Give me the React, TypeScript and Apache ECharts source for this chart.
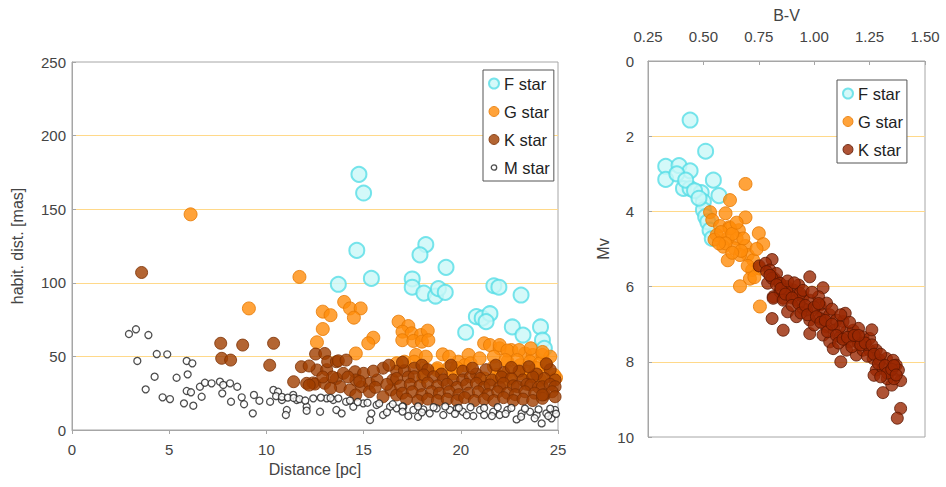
import React, { useEffect, useRef } from "react";
import * as echarts from "echarts";

// ---------- Left chart: Distance [pc] vs habitable-zone distance [mas] ----------
const seriesNames = ["F star", "G star", "K star", "M star"];

const leftF: number[][] = [
  [14.76, 173.7], [15.0, 161], [14.65, 122], [13.7, 99], [15.4, 103],
  [18.2, 126], [17.9, 119], [17.5, 102.6], [17.5, 97], [18.1, 93],
  [18.7, 91], [18.85, 96], [19.2, 93.5], [19.24, 110.5], [21.7, 98],
  [21.96, 97], [23.1, 91.7], [20.8, 77], [21.1, 76], [21.5, 79],
  [21.3, 73.6], [20.25, 66.4], [22.65, 70], [23.2, 64.5], [24.1, 70],
  [24.2, 61], [24.3, 55.5],
];

const leftG: number[][] = [
  [6.1, 146.5], [11.7, 104], [9.1, 82.6], [12.9, 80.4], [13.3, 78],
  [12.9, 68.6], [12.6, 59.6], [14.0, 87], [14.3, 82.6], [14.85, 82.6],
  [14.5, 76.3], [14.6, 52], [15.5, 62.7], [15.24, 58.9], [16.8, 73.6],
  [17.3, 70.6], [17.0, 66.8], [17.47, 65.7], [17.95, 64.5], [18.3, 67.5],
  [16.99, 61], [17.56, 60.5], [18.0, 60], [18.33, 61], [17.7, 51],
  [16.7, 45.3], [17.1, 46.4], [18.1, 42], [19.07, 51.4], [18.76, 40.8],
  [19.36, 42], [19.87, 46.4], [20.4, 51], [20.2, 44], [19.6, 38.5],
  [21.2, 58.9], [21.5, 57.7], [22.0, 55.5], [22.6, 54.3], [21.7, 49.8],
  [22.4, 46.4], [21.7, 43], [23.3, 52], [23.7, 51], [24.2, 51],
  [24.6, 49.8], [23.05, 44], [23.56, 46.4], [24.07, 45.3], [24.4, 44],
  [23.05, 38.5], [23.65, 37.4], [21.2, 35], [21.85, 37.4], [22.45, 39.6],
  [24.9, 35.5], [24.3, 36.2], [22.5, 34], [24.07, 34], [18.07, 36.2],
  [22.0, 57.7], [22.4, 54], [23.0, 54.3], [23.6, 55.5], [24.2, 53],
  [22.9, 47.5], [22.3, 47.5], [22.0, 36], [23.4, 39.6], [23.9, 42],
  [24.8, 37.4], [19.4, 49.8], [19.8, 42], [20.5, 45.3], [20.97, 48.7],
  [18.2, 49.8], [18.8, 42], [17.6, 46.4],
];

const leftK: number[][] = [
  [3.58, 107], [7.65, 58.9], [8.78, 57.7], [10.37, 58.9], [7.7, 48.7],
  [8.16, 47.5], [10.17, 44], [11.8, 43], [11.4, 32.8], [12.07, 31.7],
  [12.4, 32], [12.53, 51.6], [12.6, 40.8], [12.2, 43.5], [13.0, 52],
  [13.1, 41], [13.15, 46.4], [13.6, 46.4], [13.7, 47], [14.1, 47.5],
  [12.5, 31.2], [13.0, 31.7], [13.6, 35], [13.96, 38.5], [13.8, 29.4],
  [13.3, 28.3], [14.56, 39.6], [15.0, 38.5], [14.6, 34], [14.9, 29.4],
  [15.3, 31.7], [15.7, 34], [16.0, 42], [16.5, 34], [16.4, 27.2],
  [16.7, 23.8], [16.0, 22.6], [15.3, 26], [14.3, 27.2], [14.6, 23.8],
  [14.2, 36], [14.8, 33], [15.5, 40], [15.6, 29], [16.2, 31],
  [13.4, 36], [12.9, 36], [12.2, 30.5],
  [16.7, 40], [17.1, 40.3], [17.6, 42], [18.0, 44], [18.3, 41],
  [19.0, 38], [20.1, 40], [20.8, 38], [21.3, 41], [22.2, 39],
  [23.0, 40], [23.9, 38], [24.6, 41],
  [16.7, 35], [17.3, 36], [17.6, 36.2], [18.1, 37.4], [18.6, 36.2],
  [19.1, 34], [19.6, 34], [20.1, 34], [20.5, 36], [21.0, 35],
  [21.6, 34], [22.1, 36], [22.6, 35], [23.2, 34], [23.7, 36],
  [24.3, 35], [24.85, 34],
  [16.9, 30], [17.4, 31], [17.9, 30], [18.3, 32], [18.8, 30],
  [19.3, 31], [19.8, 29], [20.3, 31], [20.8, 31.7], [21.2, 29],
  [21.5, 30.6], [22.0, 29], [22.2, 31.7], [22.7, 30], [22.9, 29.4],
  [23.4, 31], [23.6, 30.6], [24.0, 29], [24.2, 29.4], [24.6, 31],
  [24.85, 29.4],
  [17.0, 25], [17.5, 26], [18.0, 24], [18.5, 26], [18.9, 25],
  [19.4, 26], [19.9, 24], [20.4, 25], [20.9, 26], [21.4, 24],
  [21.9, 26], [22.4, 25], [22.8, 24], [23.3, 26], [23.8, 25],
  [24.3, 24], [24.7, 26],
  [17.2, 21], [17.8, 20], [18.3, 21], [18.8, 20], [19.3, 21],
  [19.8, 20], [20.2, 22], [20.7, 20], [21.2, 21], [21.7, 20],
  [22.2, 22], [22.7, 20], [23.2, 21], [23.7, 20], [24.2, 21.5],
  [24.85, 22.6], [24.2, 23.8],
  [16.3, 44], [17.0, 46], [19.5, 44], [20.6, 42], [21.8, 44],
  [23.5, 43], [24.4, 45], [22.6, 42.5],
];

const leftM: number[][] = [
  [2.93, 65.2], [3.29, 68.4], [3.93, 64.5], [3.36, 46.9], [4.36, 51.6],
  [4.9, 51.4], [5.9, 46.9], [6.19, 45.3], [4.25, 36.2], [5.38, 35.5],
  [5.95, 37.8], [3.79, 27.6], [4.66, 22.2], [5.04, 21], [5.9, 26.5],
  [6.12, 25.6], [5.76, 18.1], [6.24, 16.5], [6.67, 22.6], [6.58, 29.4],
  [6.84, 32.1], [7.18, 31.7], [7.61, 32.8], [7.78, 30.6], [8.13, 31.7],
  [8.5, 29.4], [7.73, 24.9], [8.18, 19.2], [8.73, 22.2], [8.85, 17.5],
  [9.3, 11.3], [9.36, 23.8], [9.64, 19.9], [10.19, 19.2], [10.36, 27.2],
  [10.6, 26], [10.8, 20.4], [11.05, 13.6], [11.0, 10.2], [11.38, 23.8],
  [11.56, 20.4], [12.07, 15.8], [12.07, 13.1], [12.41, 21.5], [12.76, 12.4],
  [13.1, 21.5], [13.44, 20.4], [13.6, 13.6], [13.87, 11.3], [14.1, 19.2],
  [14.47, 15.8], [14.98, 18.1], [15.33, 6.8], [15.4, 11.3], [15.67, 17],
  [16.0, 10.2], [16.36, 15.8], [16.7, 14.7], [17.04, 15.8], [17.3, 9.5],
  [17.56, 13.6], [17.8, 9], [18.07, 14], [18.4, 11.3], [18.76, 14.7],
  [19.1, 10.2], [19.44, 13.6], [19.8, 14.7], [20.1, 12.4], [20.64, 9.5],
  [20.99, 13.6], [21.2, 10.2], [21.67, 12.4], [22.0, 10.2], [22.4, 13.6],
  [22.87, 7.2], [23.13, 11.3], [23.56, 12.4], [23.9, 10.2], [24.16, 4.5],
  [24.4, 11.3], [24.67, 7.9], [24.85, 13.6],
  [10.5, 23], [10.8, 22.5], [11.1, 22], [11.4, 21.8], [11.7, 21],
  [12.0, 20], [12.8, 22], [13.3, 21.8], [13.7, 21.5], [14.3, 20],
  [14.7, 19], [15.2, 18.5], [15.8, 18], [16.5, 17.5], [17.0, 16],
  [17.8, 16], [18.6, 15.5], [19.2, 16], [19.9, 15], [20.5, 15.5],
  [21.2, 15], [21.9, 15.5], [22.6, 15], [23.3, 14.5], [24.0, 14],
  [24.6, 14.5], [16.2, 12], [17.0, 12.5], [18.0, 12], [19.7, 11],
  [20.3, 10], [21.6, 9.5], [22.3, 11], [23.1, 9], [23.8, 8],
  [24.5, 9.5], [24.9, 11],
];

// ---------- Right chart: B-V vs Mv ----------
const rightF: number[][] = [
  [0.44, 1.57], [0.51, 2.4], [0.33, 2.8], [0.39, 2.78], [0.44, 2.92],
  [0.33, 3.15], [0.38, 3.0], [0.41, 3.39], [0.44, 3.39], [0.42, 3.17],
  [0.49, 3.5], [0.545, 3.17], [0.57, 3.58], [0.5, 3.74], [0.5, 3.96],
  [0.51, 4.14], [0.52, 4.28], [0.53, 4.5], [0.54, 4.72], [0.46, 3.45],
  [0.48, 3.65],
];

const rightG: number[][] = [
  [0.69, 3.27], [0.62, 3.7], [0.53, 4.02], [0.6, 4.05], [0.69, 4.16],
  [0.54, 4.23], [0.575, 4.39], [0.617, 4.42], [0.66, 4.5], [0.56, 4.63],
  [0.61, 4.72], [0.65, 4.72], [0.75, 4.58], [0.77, 4.87], [0.59, 4.94],
  [0.64, 4.98], [0.69, 4.92], [0.7, 5.16], [0.665, 5.16], [0.61, 5.3],
  [0.725, 5.3], [0.72, 5.56], [0.755, 5.52], [0.71, 5.79], [0.665, 5.99],
  [0.755, 6.53], [0.62, 4.45], [0.68, 4.72], [0.55, 4.75], [0.58, 4.55],
  [0.63, 4.6], [0.6, 4.85], [0.67, 5.05], [0.74, 5.0], [0.7, 5.45],
  [0.73, 5.75], [0.63, 5.1], [0.57, 4.85], [0.65, 4.3],
];

const rightK: number[][] = [
  [0.752, 5.45], [0.81, 5.28], [0.98, 5.74], [1.04, 6.03], [0.81, 6.85],
  [0.86, 7.16], [0.98, 7.25], [1.12, 8.0], [1.31, 8.82], [1.35, 8.62],
  [1.39, 9.24], [1.375, 9.5], [1.39, 8.5],
  [0.78, 5.38], [0.8, 5.56], [0.82, 5.78], [0.79, 5.91], [0.845, 5.91],
  [0.876, 6.0], [0.906, 6.09], [0.93, 5.96], [0.815, 6.27], [0.86, 6.31],
  [0.89, 6.22], [0.92, 6.36], [0.95, 6.27], [0.98, 6.36], [1.02, 6.27],
  [0.88, 6.67], [0.92, 6.8], [0.95, 6.58], [0.996, 6.62], [1.026, 6.49],
  [1.056, 6.44], [1.04, 6.75], [1.07, 6.75], [1.1, 6.89], [1.13, 6.93],
  [1.056, 7.07], [1.09, 7.16], [1.04, 7.29], [1.07, 7.47], [1.086, 7.65],
  [1.116, 7.34], [1.146, 7.2], [1.176, 7.16], [1.2, 7.11], [1.16, 7.47],
  [1.19, 7.38], [1.22, 7.34], [1.25, 7.38], [1.146, 7.69], [1.19, 7.82],
  [1.22, 7.69], [1.25, 7.69], [1.28, 7.69], [1.266, 7.91], [1.296, 7.96],
  [1.326, 7.91], [1.356, 7.96], [1.37, 8.09], [1.38, 8.22], [1.28, 8.22],
  [1.31, 8.18], [1.34, 8.27], [1.27, 8.36], [1.33, 8.45], [1.36, 8.45],
  [1.2, 7.51], [1.116, 7.07], [1.14, 6.71], [0.98, 6.89], [1.0, 7.02],
  [1.026, 6.85], [0.966, 6.62], [0.936, 6.18], [0.846, 6.14], [0.83, 5.65],
  [0.785, 5.6], [0.81, 5.78], [0.846, 5.91], [0.876, 6.09], [0.815, 6.31],
  [0.86, 6.36],
  [0.8, 5.7], [0.83, 5.95], [0.85, 6.05], [0.87, 6.2], [0.9, 6.3],
  [0.9, 6.5], [0.93, 6.45], [0.94, 6.7], [0.96, 6.5], [0.97, 6.75],
  [1.0, 6.55], [1.01, 6.8], [1.03, 6.95], [1.05, 6.9], [1.06, 7.2],
  [1.08, 7.0], [1.1, 7.3], [1.11, 7.5], [1.13, 7.4], [1.15, 7.35],
  [1.17, 7.6], [1.18, 7.3], [1.21, 7.55], [1.23, 7.5], [1.24, 7.85],
  [1.26, 7.55], [1.27, 7.8], [1.29, 8.05], [1.3, 7.8], [1.32, 8.1],
  [1.33, 8.3], [1.35, 8.2], [1.36, 8.1], [1.37, 8.35], [1.3, 8.4],
  [0.88, 5.85], [0.91, 5.9], [0.95, 6.1], [0.99, 6.15], [1.02, 6.45],
  [1.08, 6.6], [1.12, 6.75], [1.16, 6.95], [1.2, 7.3], [1.26, 7.15],
];

const leftXTicks = { min: 0, max: 25, interval: 5 };
const leftYTicks = { min: 0, max: 250, interval: 50 };
const rightXTicks = { min: 0.25, max: 1.5, interval: 0.25 };
const rightYTicks = { min: 0, max: 10, interval: 2 };

const FONT = "'Liberation Sans', Arial, sans-serif";
const AXIS_GRAY = "#a6a6a6";
const GRID_YELLOW = "#ffd98a";
const LABEL_COLOR = "#444444";

const F_STYLE = { color: "#c9f7f8", borderColor: "#56dde6", borderWidth: 2 };
const G_STYLE = { color: "#ff8c0a", borderColor: "#e67800", borderWidth: 1 };
const K_LEFT_STYLE = { color: "#a03e00", borderColor: "#7a2e00", borderWidth: 1 };
const K_RIGHT_STYLE = { color: "#9a2802", borderColor: "#5a1500", borderWidth: 1 };
const M_STYLE = { color: "#ffffff", borderColor: "#222222", borderWidth: 1.3 };

const M_ICON =
  "image://data:image/svg+xml;utf8," +
  encodeURIComponent(
    '<svg xmlns="http://www.w3.org/2000/svg" width="10" height="14" viewBox="0 0 10 14"><circle cx="5" cy="7" r="2.7" fill="white" stroke="#222" stroke-width="1.3"/></svg>'
  );

export default function App() {
  const ref = useRef<HTMLDivElement>(null);

  useEffect(() => {
    document.body.style.margin = "0";
    if (!ref.current) return;
    const chart = echarts.init(ref.current, undefined, { renderer: "svg" });

    const labelStyle = { color: LABEL_COLOR, fontSize: 15, fontFamily: FONT };
    const nameStyle = { color: LABEL_COLOR, fontSize: 16, fontFamily: FONT };
    const axisLine = { show: true, lineStyle: { color: AXIS_GRAY } };
    const splitLine = {
      show: true,
      showMinLine: false,
      showMaxLine: false,
      lineStyle: { color: GRID_YELLOW, width: 1.2 },
    };

    const legendText = { color: "#222", fontSize: 16.5, fontFamily: FONT };

    const option: any = {
      animation: false,
      backgroundColor: "#ffffff",
      grid: [
        { left: 72, top: 62, width: 486, height: 368, show: true, borderColor: AXIS_GRAY, borderWidth: 1, backgroundColor: "transparent" },
        { left: 648, top: 61, width: 277, height: 376, show: true, borderColor: AXIS_GRAY, borderWidth: 1, backgroundColor: "transparent" },
      ],
      xAxis: [
        {
          type: "value",
          gridIndex: 0,
          ...leftXTicks,
          position: "bottom",
          name: "Distance [pc]",
          nameLocation: "middle",
          nameGap: 31,
          nameTextStyle: nameStyle,
          axisLine,
          axisTick: { show: true, inside: false, length: 4, lineStyle: { color: AXIS_GRAY } },
          splitLine: { show: false },
          axisLabel: { ...labelStyle, margin: 12 },
        },
        {
          type: "value",
          gridIndex: 1,
          ...rightXTicks,
          position: "top",
          name: "B-V",
          nameLocation: "middle",
          nameGap: 38,
          nameTextStyle: nameStyle,
          axisLine,
          axisTick: { show: true, inside: true, length: 4, lineStyle: { color: AXIS_GRAY } },
          splitLine: { show: false },
          axisLabel: {
            ...labelStyle,
            margin: 17,
            formatter: (v: number) => v.toFixed(2),
          },
        },
      ],
      yAxis: [
        {
          type: "value",
          gridIndex: 0,
          ...leftYTicks,
          name: "habit. dist. [mas]",
          nameLocation: "middle",
          nameGap: 47,
          nameTextStyle: nameStyle,
          axisLine,
          axisTick: { show: true, inside: true, length: 4, lineStyle: { color: AXIS_GRAY } },
          splitLine,
          axisLabel: { ...labelStyle, margin: 6 },
        },
        {
          type: "value",
          gridIndex: 1,
          ...rightYTicks,
          inverse: true,
          name: "Mv",
          nameLocation: "middle",
          nameGap: 37,
          nameTextStyle: nameStyle,
          axisLine,
          axisTick: { show: true, inside: true, length: 4, lineStyle: { color: AXIS_GRAY } },
          splitLine,
          axisLabel: { ...labelStyle, margin: 14 },
        },
      ],
      legend: [
        {
          orient: "vertical",
          left: 483,
          top: 70,
          padding: [5, 4, 5, 5],
          itemGap: 11,
          itemWidth: 10,
          itemHeight: 14,
          borderColor: "#555",
          borderWidth: 1,
          borderRadius: 0,
          backgroundColor: "#ffffff",
          textStyle: legendText,
          selectedMode: false,
          data: [
            { name: seriesNames[0], icon: "circle", itemStyle: F_STYLE },
            { name: seriesNames[1], icon: "circle", itemStyle: G_STYLE },
            { name: seriesNames[2], icon: "circle", itemStyle: K_LEFT_STYLE },
            { name: seriesNames[3], icon: M_ICON },
          ],
        },
        {
          orient: "vertical",
          left: 837,
          top: 80,
          padding: [5, 4, 5, 5],
          itemGap: 11,
          itemWidth: 10,
          itemHeight: 14,
          borderColor: "#555",
          borderWidth: 1,
          borderRadius: 0,
          backgroundColor: "#ffffff",
          textStyle: legendText,
          selectedMode: false,
          data: [
            { name: seriesNames[0], icon: "circle", itemStyle: F_STYLE },
            { name: seriesNames[1], icon: "circle", itemStyle: G_STYLE },
            { name: seriesNames[2], icon: "circle", itemStyle: K_RIGHT_STYLE },
          ],
        },
      ],
      series: [
        { type: "scatter", name: seriesNames[0], xAxisIndex: 0, yAxisIndex: 0, data: leftF, symbolSize: 15, itemStyle: F_STYLE },
        { type: "scatter", name: seriesNames[1], xAxisIndex: 0, yAxisIndex: 0, data: leftG, symbolSize: 13, itemStyle: G_STYLE },
        { type: "scatter", name: seriesNames[2], xAxisIndex: 0, yAxisIndex: 0, data: leftK, symbolSize: 12, itemStyle: K_LEFT_STYLE },
        { type: "scatter", name: seriesNames[3], xAxisIndex: 0, yAxisIndex: 0, data: leftM, symbolSize: 7, itemStyle: M_STYLE },
        { type: "scatter", name: seriesNames[0], xAxisIndex: 1, yAxisIndex: 1, data: rightF, symbolSize: 15, itemStyle: F_STYLE },
        { type: "scatter", name: seriesNames[1], xAxisIndex: 1, yAxisIndex: 1, data: rightG, symbolSize: 13, itemStyle: G_STYLE },
        { type: "scatter", name: seriesNames[2], xAxisIndex: 1, yAxisIndex: 1, data: rightK, symbolSize: 12, itemStyle: K_RIGHT_STYLE },
      ],
    };

    chart.setOption(option);
    return () => chart.dispose();
  }, []);

  return <div ref={ref} style={{ width: 946, height: 487 }} />;
}
